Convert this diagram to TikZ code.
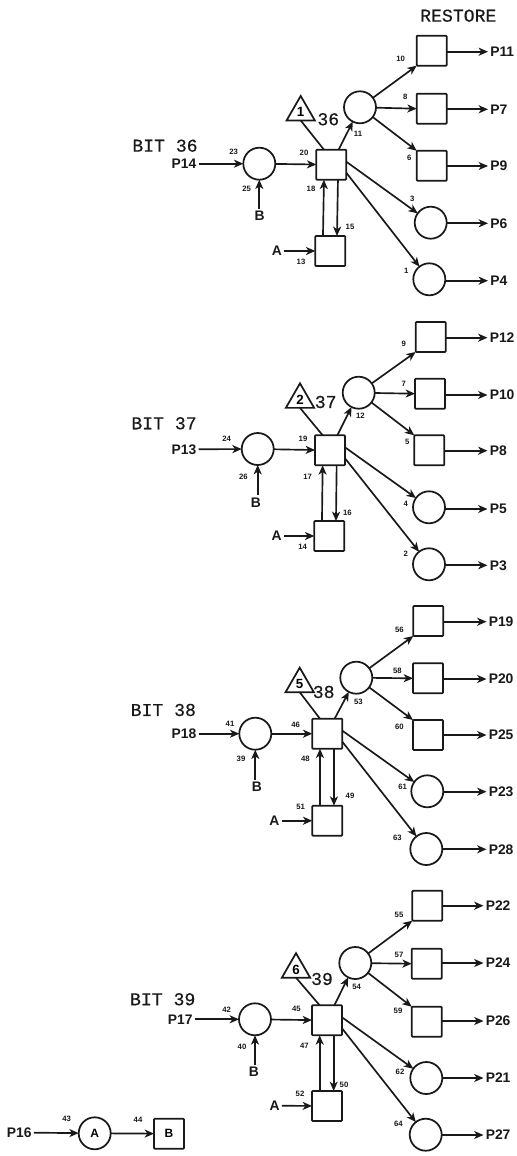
\documentclass[tikz,border=0pt]{standalone}
\usepackage{fontspec}
\setmainfont{Liberation Sans}
\newfontfamily\typew[FakeBold=0.4]{Liberation Mono}
\usetikzlibrary{arrows.meta,shapes.geometric}
\tikzset{
  x=0.75pt,y=-0.75pt,
  >={Stealth[length=7pt,width=6pt,inset=2pt]},
  ar/.style={->,line width=1.25pt,black!90},
  sq/.style={draw=black!90,line width=1.3pt,rectangle,rounded corners=0.6pt,minimum size=22.5pt,inner sep=0pt,outer sep=0pt},
  ci/.style={draw=black!90,line width=1.3pt,circle,minimum size=24pt,inner sep=0pt,outer sep=0pt},
  tri/.style={draw=black!90,line width=1.3pt,regular polygon,regular polygon sides=3,minimum size=24.5pt,inner sep=0pt,outer sep=0pt,font=\fontsize{10}{10}\selectfont\bfseries},
  lab/.style={font=\fontsize{5.8}{6}\selectfont\bfseries,inner sep=0pt,black!90},
  big/.style={font=\fontsize{10.4}{11}\selectfont\bfseries,inner sep=1.5pt,black!90},
  pout/.style={big,anchor=west},
  title/.style={font=\typew\fontsize{13.6}{14}\selectfont,inner sep=0pt,black!90},
}
\newcommand{\blockedges}[1]{
  \draw[ar] (pin#1) -- (i#1);
  \draw[ar] (i#1.south |- b#1.north) -- (i#1.south);
  \draw[ar] (i#1) -- (m#1);
  \draw[ar] (a#1) -- (l#1);
  \draw[ar] ([xshift=-5.5pt]l#1.north) -- ([xshift=-5.5pt]m#1.south);
  \draw[ar] ([xshift=5pt]m#1.south) -- ([xshift=5pt]l#1.north);
  \draw[line width=1.25pt,black!90] (t#1.side 2) -- ([xshift=-5.5pt]m#1.north);
  \draw[ar] ([xshift=5.5pt]m#1.north) -- (c#1);
  \draw[ar] (c#1) -- (oa#1.south west);
  \draw[ar] (c#1) -- (ob#1.west);
  \draw[ar] (c#1) -- (oc#1.north west);
  \draw[ar] ([yshift=2.25pt]m#1.east) -- (od#1);
  \draw[ar] ([yshift=-6pt]m#1.east) -- (oe#1);
  \draw[ar] (oa#1.east |- pa#1.west) -- (pa#1.west);
  \draw[ar] (ob#1.east |- pb#1.west) -- (pb#1.west);
  \draw[ar] (oc#1.east |- pc#1.west) -- (pc#1.west);
  \draw[ar] (od#1.east |- pd#1.west) -- (pd#1.west);
  \draw[ar] (oe#1.east |- pe#1.west) -- (pe#1.west);
}
\begin{document}
\begin{tikzpicture}
\useasboundingbox[fill=white] (0,0) rectangle (517,1156);
\node[title] (restore) at (458.3,15.7) {RESTORE};

% ---- BIT 36
\node[title] (bit1) at (165,145.7) {BIT 36};
\node[title] (num1) at (328.3,119.3) {36};
\node[big] (pin1) at (184,163.7) {P14};
\node[big] (b1) at (259.7,216) {B};
\node[big] (a1) at (277,251) {A};
\node[ci] (i1) at (259.3,163.7) {};
\node[sq] (m1) at (331.3,164.7) {};
\node[sq] (l1) at (330.3,251) {};
\node[tri] (t1) at (300.7,112.3) {1};
\node[ci] (c1) at (360,107.3) {};
\node[sq] (oa1) at (431.7,50.7) {};
\node[sq] (ob1) at (431.7,108.7) {};
\node[sq] (oc1) at (431.7,165.7) {};
\node[ci] (od1) at (430.7,222.7) {};
\node[ci] (oe1) at (429.3,279.3) {};
\node[pout] (pa1) at (488,51.7) {P11};
\node[pout] (pb1) at (488,109.3) {P7};
\node[pout] (pc1) at (488,166) {P9};
\node[pout] (pd1) at (488,223.3) {P6};
\node[pout] (pe1) at (488,280.7) {P4};
\blockedges{1}
\node[lab] (n23) at (233.7,152.3) {23};
\node[lab] (n25) at (246.7,188.7) {25};
\node[lab] (n20) at (304,152.7) {20};
\node[lab] (n18) at (311,189.3) {18};
\node[lab] (n15) at (350,226.7) {15};
\node[lab] (n13) at (301,262.3) {13};
\node[lab] (n11) at (358,134.3) {11};
\node[lab] (n10) at (400.7,59.3) {10};
\node[lab] (n8) at (405.3,96.7) {8};
\node[lab] (n6) at (409.3,158) {6};
\node[lab] (n3) at (412.3,199.3) {3};
\node[lab] (n1) at (406.3,271) {1};

% ---- BIT 37
\node[title] (bit2) at (164,423.3) {BIT 37};
\node[title] (num2) at (325.7,402) {37};
\node[big] (pin2) at (184,449.3) {P13};
\node[big] (b2) at (256,502.3) {B};
\node[big] (a2) at (276.7,536) {A};
\node[ci] (i2) at (257.7,449) {};
\node[sq] (m2) at (330,450.3) {};
\node[sq] (l2) at (329.3,536) {};
\node[tri] (t2) at (300,399.7) {2};
\node[ci] (c2) at (358.7,392.7) {};
\node[sq] (oa2) at (430.7,337) {};
\node[sq] (ob2) at (430,393.7) {};
\node[sq] (oc2) at (429.3,450.3) {};
\node[ci] (od2) at (429,507.3) {};
\node[ci] (oe2) at (429,564.3) {};
\node[pout] (pa2) at (487.5,337.7) {P12};
\node[pout] (pb2) at (487.5,395) {P10};
\node[pout] (pc2) at (487.5,450.7) {P8};
\node[pout] (pd2) at (487.5,509) {P5};
\node[pout] (pe2) at (487.5,565.3) {P3};
\blockedges{2}
\node[lab] (n24) at (226.7,439) {24};
\node[lab] (n26) at (243.3,476.7) {26};
\node[lab] (n19) at (303,439.3) {19};
\node[lab] (n17) at (307.7,477.3) {17};
\node[lab] (n16) at (347.3,513.3) {16};
\node[lab] (n14) at (302.7,546.7) {14};
\node[lab] (n12) at (360.3,415.7) {12};
\node[lab] (n9) at (403.7,344.3) {9};
\node[lab] (n7) at (403.7,384) {7};
\node[lab] (n5) at (407.3,442.3) {5};
\node[lab] (n4) at (405.7,504.3) {4};
\node[lab] (n2) at (405.7,554) {2};

% ---- BIT 38
\node[title] (bit3) at (163.3,710) {BIT 38};
\node[title] (num3) at (323.7,692) {38};
\node[big] (pin3) at (184,733.7) {P18};
\node[big] (b3) at (257,786.7) {B};
\node[big] (a3) at (274.3,820.7) {A};
\node[ci] (i3) at (255.3,733.7) {};
\node[sq] (m3) at (327.3,733.7) {};
\node[sq] (l3) at (327.3,820.7) {};
\node[tri] (t3) at (299.7,684) {5};
\node[ci] (c3) at (356.3,677.7) {};
\node[sq] (oa3) at (428.3,621) {};
\node[sq] (ob3) at (428,678.3) {};
\node[sq] (oc3) at (428,735) {};
\node[ci] (od3) at (427.3,791.3) {};
\node[ci] (oe3) at (426.3,849) {};
\node[pout] (pa3) at (486.5,621.7) {P19};
\node[pout] (pb3) at (486.5,679) {P20};
\node[pout] (pc3) at (486.5,735) {P25};
\node[pout] (pd3) at (486.5,791.7) {P23};
\node[pout] (pe3) at (486.5,849.3) {P28};
\blockedges{3}
\node[lab] (n41) at (230,724) {41};
\node[lab] (n39) at (241,759.3) {39};
\node[lab] (n46) at (295.7,724.7) {46};
\node[lab] (n48) at (305.3,759) {48};
\node[lab] (n49) at (350,796) {49};
\node[lab] (n51) at (300.7,807.3) {51};
\node[lab] (n53) at (358.3,702.3) {53};
\node[lab] (n56) at (399.3,629.7) {56};
\node[lab] (n58) at (397.3,671.3) {58};
\node[lab] (n60) at (399.3,727.3) {60};
\node[lab] (n61) at (402.7,787.3) {61};
\node[lab] (n63) at (397.3,837.7) {63};

% ---- BIT 39
\node[title] (bit4) at (162.7,999.3) {BIT 39};
\node[title] (num4) at (322,979) {39};
\node[big] (pin4) at (180.3,1019.3) {P17};
\node[big] (b4) at (254,1071.7) {B};
\node[big] (a4) at (274.7,1105.7) {A};
\node[ci] (i4) at (255,1019.3) {};
\node[sq] (m4) at (327,1020.3) {};
\node[sq] (l4) at (327,1106) {};
\node[tri] (t4) at (296,969.5) {6};
\node[ci] (c4) at (355.3,963) {};
\node[sq] (oa4) at (427.3,905.7) {};
\node[sq] (ob4) at (426.7,963.7) {};
\node[sq] (oc4) at (426.7,1021.7) {};
\node[ci] (od4) at (426.3,1078) {};
\node[ci] (oe4) at (425.7,1134.7) {};
\node[pout] (pa4) at (483.5,905.7) {P22};
\node[pout] (pb4) at (483.5,963) {P24};
\node[pout] (pc4) at (483.5,1021) {P26};
\node[pout] (pd4) at (483.5,1078) {P21};
\node[pout] (pe4) at (483.5,1135) {P27};
\blockedges{4}
\node[lab] (n42) at (226.7,1009.3) {42};
\node[lab] (n40) at (242,1047) {40};
\node[lab] (n45) at (296.3,1009.3) {45};
\node[lab] (n47) at (304.3,1045.7) {47};
\node[lab] (n50) at (344,1084.7) {50};
\node[lab] (n52) at (300,1094) {52};
\node[lab] (n54) at (356.7,987.3) {54};
\node[lab] (n55) at (399,914.7) {55};
\node[lab] (n57) at (399,954.7) {57};
\node[lab] (n59) at (398,1011.3) {59};
\node[lab] (n62) at (400,1072.3) {62};
\node[lab] (n64) at (398.3,1123.7) {64};

% ---- bottom-left pair
\node[big] (p16) at (19.3,1132.5) {P16};
\node[ci,font=\fontsize{9}{10}\selectfont\bfseries] (ca) at (94.7,1133.3) {A};
\node[sq,font=\fontsize{9}{10}\selectfont\bfseries] (sb) at (169,1133.7) {B};
\draw[ar] (p16) -- (ca);
\draw[ar] (ca) -- (sb);
\node[lab] (n43) at (66.7,1118.7) {43};
\node[lab] (n44) at (138,1119.7) {44};
\end{tikzpicture}
\end{document}
